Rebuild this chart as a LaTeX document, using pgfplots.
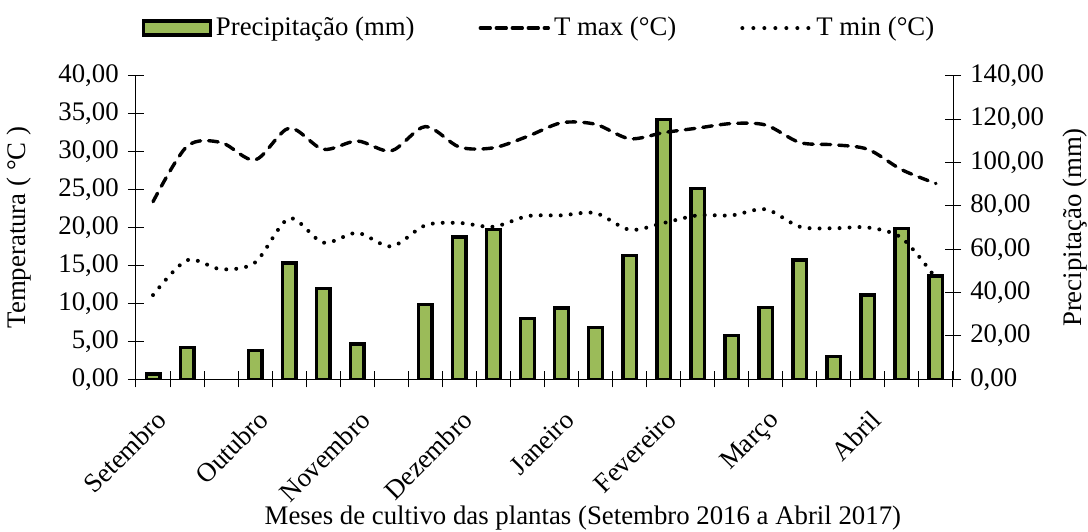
\documentclass[border=0pt]{standalone}
\usepackage{pgfplots}
\pgfplotsset{compat=1.18}
\usepackage{fontspec}
\setmainfont{Liberation Serif}
\definecolor{barcol}{HTML}{9BBB59}

\pgfplotstableread{
i prec
0 2.5
1 14.8
3 13.2
4 53.7
5 42.0
6 16.3
8 34.4
9 65.7
10 69.2
11 28.0
12 32.9
13 23.8
14 57.2
15 119.7
16 88.1
17 20.3
18 33.0
19 55.0
20 10.4
21 38.9
22 69.5
23 47.7
}\precip

\pgfplotstableread{
i tmax tmin
0 23.4 11.1
1 30.7 15.7
2 31.2 14.5
3 28.9 15.4
4 33.1 21.2
5 30.3 18.0
6 31.4 19.3
7 30.1 17.5
8 33.3 20.3
9 30.6 20.6
10 30.5 20.1
11 32.0 21.5
12 33.8 21.6
13 33.6 21.9
14 31.7 19.7
15 32.5 20.6
16 33.1 21.6
17 33.7 21.6
18 33.5 22.4
19 31.2 20.1
20 30.9 19.9
21 30.3 20.0
22 27.6 18.6
23 25.8 13.3
}\temps

\pgfplotsset{
  common/.style={
    at={(0,0)}, anchor=south west, scale only axis,
    width=408.5pt, height=151.8pt,
    xmin=-0.5, xmax=23.5,
    axis line style={-, line width=0.5pt, black},
    tick align=center, major tick length=8pt, minor tick length=8pt,
    tick style={black, line width=0.5pt},
    /pgf/number format/.cd, fixed, fixed zerofill, precision=2, use comma, assume math mode=true,
  },
}

\begin{document}
\fontsize{13.4}{16}\selectfont
\begin{tikzpicture}
\useasboundingbox (-68pt,-75.85pt) rectangle (476pt,189.65pt);
% precipitation (right axis)
\begin{axis}[common,
  ymin=0, ymax=140,
  axis x line=none, axis y line*=right,
  ytick={0,20,...,140},
  ylabel={Precipitação (mm)},
  ylabel style={at={(axis description cs:1.149,0.5)}, anchor=center},
]
\addplot[ybar, bar width=6.8pt, bar shift=0pt, fill=barcol, draw=black, line width=1.7pt]
  table[x=i, y=prec] {\precip};
\end{axis}
% temperature (left axis)
\begin{axis}[common,
  ymin=0, ymax=40,
  axis x line*=bottom, axis y line*=left,
  ytick={0,5,...,40},
  xtick={0,3,6,9,12,15,18,21},
  xticklabels={Setembro,Outubro,Novembro,Dezembro,Janeiro,Fevereiro,Março,Abril},
  minor xtick={-0.5,0.5,...,23.5},
  every major x tick/.append style={draw=none},
  xticklabel style={rotate=45, anchor=north east, xshift=-2.5pt, yshift=-3.5pt},
  ylabel={Temperatura ( °C )},
  ylabel style={at={(axis description cs:-0.143,0.5)}, anchor=center},
  xlabel={Meses de cultivo das plantas (Setembro 2016 a Abril 2017)},
  xlabel style={at={(axis description cs:0.547,-0.458)}, anchor=center},
  legend columns=3,
  legend style={at={(0.4945,1.157)}, anchor=center, draw=none, fill=none,
    /tikz/every even column/.append style={column sep=30pt}},
]
\addlegendimage{legend image code/.code={\draw[fill=barcol, draw=black, line width=1.7pt] (0.8pt,-3.5pt) rectangle (34.2pt,3.5pt);}}
\addlegendentry{Precipitação (mm)}
\addplot[smooth, black, line width=1.7pt, line cap=round, dash pattern=on 4.8pt off 4pt,
  legend image code/.code={\draw[black, line width=1.7pt, line cap=round, dash pattern=on 5pt off 3pt] (1pt,0pt) -- (35pt,0pt);}]
  table[x=i, y=tmax] {\temps};
\addlegendentry{T max (°C)}
\addplot[smooth, black, line width=2pt, line cap=round, dash pattern=on 0pt off 5pt,
  legend image code/.code={\draw[black, line width=2pt, line cap=round, dash pattern=on 0pt off 5.5pt] (1pt,0pt) -- (35pt,0pt);}]
  table[x=i, y=tmin] {\temps};
\addlegendentry{T min (°C)}
\end{axis}
\end{tikzpicture}
\end{document}
